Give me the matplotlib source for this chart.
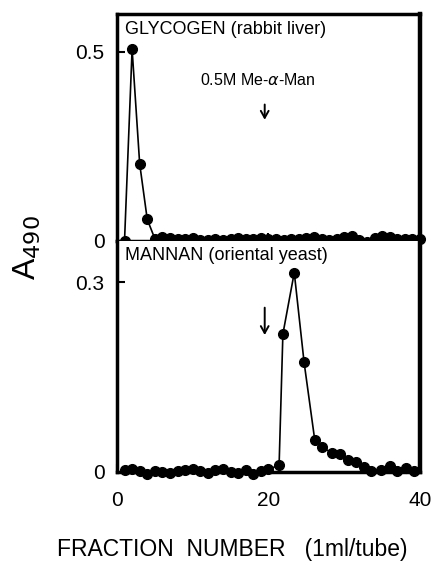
import numpy as np
import matplotlib
matplotlib.use("Agg")
import matplotlib.pyplot as plt

plt.rcParams["font.family"] = ["Liberation Sans", "DejaVu Sans"]
plt.rcParams["mathtext.fontset"] = "dejavusans"

# glycogen (rabbit liver), one point per tube
frac_glyc = list(range(1, 41))
a490_glyc = [0.0, 0.507, 0.204, 0.057, 0.006, 0.010, 0.008, 0.004, 0.005, 0.008,
             0.003, 0.002, 0.004, 0.002, 0.006, 0.008, 0.004, 0.006, 0.008, 0.006,
             0.004, 0.003, 0.005, 0.006, 0.008, 0.010, 0.006, 0.003, 0.006, 0.010,
             0.012, 0.002, -0.004, 0.008, 0.012, 0.010, 0.006, 0.004, 0.005, 0.004]

# mannan (oriental yeast)
frac_mann = list(range(1, 21)) + [21.4, 21.9, 23.4, 24.7, 26.1, 27.1, 28.4, 29.4,
                                  30.5, 31.6, 32.6, 33.5, 34.8, 36.0, 37.0, 38.2, 39.2]
a490_mann = [0.003, 0.005, 0.001, -0.003, 0.001, 0.0, -0.002, 0.002, 0.003, 0.005,
             0.002, -0.001, 0.003, 0.004, 0.0, -0.002, 0.003, -0.003, 0.001, 0.004,
             0.011, 0.218, 0.315, 0.173, 0.051, 0.039, 0.030, 0.028, 0.019, 0.015,
             0.008, 0.002, 0.003, 0.009, 0.002, 0.006, 0.002]

elution_frac = 19.5  # 0.5M Me-a-Man added

fig = plt.figure(figsize=(4.38, 5.71), dpi=100)
ax1 = fig.add_axes([0.267, 0.578, 0.692, 0.3975])
ax2 = fig.add_axes([0.267, 0.1734, 0.692, 0.4046])

for ax, x, y in [(ax1, frac_glyc, a490_glyc), (ax2, frac_mann, a490_mann)]:
    ax.plot(x, y, color="k", lw=1.2, marker="o", ms=7, clip_on=False, zorder=3)
    ax.set_xlim(0, 40)
    for s in ax.spines.values():
        s.set_linewidth(2.5)
    ax.spines["right"].set_linewidth(3.2)
    ax.tick_params(direction="in", length=6, width=1.5, labelsize=15, pad=9)

ax1.set_ylim(0, 0.6)
ax1.set_yticks([0, 0.5])
ax1.set_yticklabels(["0", "0.5"])
ax1.set_xticks([20])
ax1.tick_params(axis="x", labelbottom=False)

ax2.set_ylim(0, 0.365)
ax2.set_yticks([0, 0.3])
ax2.set_yticklabels(["0", "0.3"])
ax2.set_xticks([0, 20, 40])
ax2.tick_params(axis="x", pad=14)
ax2.spines["top"].set_visible(False)

ax1.text(0.026, 0.968, "GLYCOGEN (rabbit liver)", transform=ax1.transAxes,
         fontsize=13, va="top", ha="left")
ax2.text(0.026, 0.972, "MANNAN (oriental yeast)", transform=ax2.transAxes,
         fontsize=13, va="top", ha="left")
ax1.text(18.6, 0.426, r"0.5M Me-$\alpha$-Man", fontsize=11.5, ha="center", va="center")

arrow = dict(arrowstyle="->,head_length=0.5,head_width=0.28", color="k", lw=1.4)
ax1.annotate("", xy=(elution_frac, 0.313), xytext=(elution_frac, 0.368), arrowprops=arrow)
ax2.annotate("", xy=(elution_frac, 0.212), xytext=(elution_frac, 0.264), arrowprops=arrow)

fig.text(0.062, 0.567, r"A$_{490}$", rotation=90, fontsize=23, ha="center", va="center")
fig.text(0.53, 0.037, "FRACTION  NUMBER   (1ml/tube)", fontsize=16.5, ha="center", va="center")

fig.savefig("out.png", dpi=100)
